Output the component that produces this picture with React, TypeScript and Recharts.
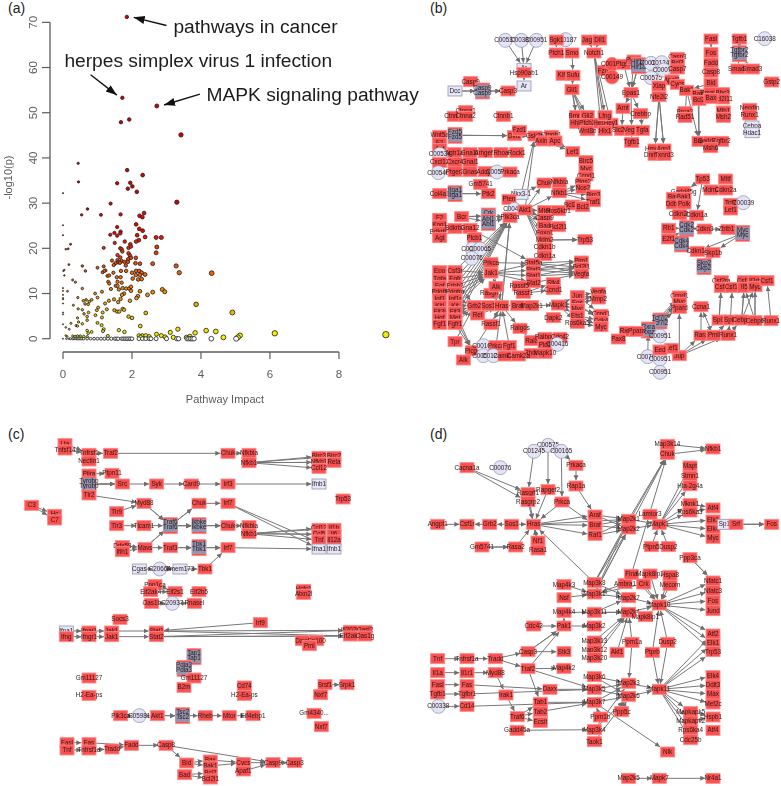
import { ScatterChart, Scatter, XAxis, YAxis, ReferenceLine, ReferenceDot } from 'recharts';

// panel (a): pathway impact vs -log10(p)
const pathwayPoints = [
  [1.85, 71.2], [1.72, 53.3], [2.72, 51.5], [1.92, 48.5], [1.68, 47.9], [3.42, 45.1], [0.44, 38.8], [0.45, 34.7], [0, 32.2],
  [1.86, 37.3], [2.31, 36.2], [1.57, 34.4], [1.95, 34.5], [2.01, 33.7], [1.88, 33.2], [2.14, 32.5], [1.38, 29.9], [3.3, 30.2],
  [0.71, 28.7], [0.54, 27.4], [1.1, 27.4], [1.67, 27.5], [2.22, 27.2], [2.3, 26.9], [2.35, 27.8], [2.12, 25.3], [1.57, 24.7],
  [0, 25.1], [0, 22.9], [2.21, 24.3], [2.31, 23.9], [1.67, 23.7], [1.66, 23.3], [1.37, 23], [1.49, 23.4], [1.57, 22.8], [2.15, 22.9],
  [2.7, 22.4], [2.85, 22.4], [2.38, 22.5], [2.2, 21.8], [2.12, 21.5], [1.79, 21.5], [1.5, 21.2], [1.95, 20.9], [0.22, 20.9],
  [2.72, 20.3], [1.18, 20.1], [0.08, 19.8], [0.15, 19.9], [1.9, 20.1], [1.97, 20.4], [1.66, 20], [1.7, 19.8], [2.7, 19], [1.72, 19.3],
  [1.58, 18.5], [1.9, 18.9], [1.94, 18.4], [1.66, 18], [1.89, 17.6], [1.97, 17.9], [2.11, 17.9], [1.42, 17.3], [1.58, 17.4],
  [1.6, 16.9], [1.52, 16.7], [1.7, 17.2], [1.78, 17], [1.88, 17], [1.65, 16.8], [1.47, 16.3], [1.82, 16.2], [2.1, 16.7], [2.23, 16.6],
  [2.6, 16.6], [3.28, 16.1], [0.17, 16.4], [0.56, 16.1], [0.01, 15], [0.04, 15.2], [0.65, 15], [1, 15.7], [1.18, 16], [1.23, 15.1],
  [1.15, 14.7], [1.2, 15], [3.37, 14.6], [4.31, 14.5], [0.04, 14], [2, 14.6], [2.12, 15], [2.21, 15], [2.28, 14.6], [2.38, 14.2],
  [2.11, 14.1], [2.23, 14.1], [2.02, 13.3], [2.18, 13.1], [2.28, 13.2], [1.46, 14.6], [1.68, 15], [1.83, 15], [1.29, 13.9], [1.34, 14],
  [1.31, 12.6], [1.34, 12.2], [1.56, 13.6], [1.67, 13.6], [1.58, 12.6], [1.7, 12.4], [1.53, 11.7], [1.58, 11.7], [1.62, 10.9],
  [1.73, 11.2], [1.83, 11.1], [1.92, 11.1], [1.97, 11.5], [1.97, 10.6], [1.39, 11], [1.13, 10.4], [2.23, 10.5], [2.6, 10.3],
  [2.88, 10.9], [2.95, 10.4], [2.45, 9.7], [2.17, 9.4], [2.13, 9], [1.77, 10], [1.71, 9.7], [1.67, 8.8], [1.6, 8.1], [1.48, 8.7],
  [1.33, 8.4], [1.22, 7.8], [1.94, 8.4], [3.86, 7.6], [4.91, 5.8], [2.4, 5.7], [0.93, 10], [1, 9.1], [0.83, 8.6], [0.76, 8.2],
  [0.67, 8.6], [0.59, 8.4], [0.64, 7.7], [0.73, 7.6], [0.43, 9.1], [0.3, 7.4], [0.56, 11.1], [0.13, 10.5], [0.28, 13], [0.36, 12.5],
  [0, 11.2], [0, 10.6], [0, 9.7], [0, 9], [0, 8.7], [0, 7.8], [0, 5.8], [0, 5.4], [0, 3.2], [1.27, 6.5], [1.02, 6.9], [0.98, 6.3],
  [1.15, 5.8], [0.94, 5.2], [1.13, 4.7], [0.44, 6.6], [0.56, 6.4], [0.61, 5.5], [0.74, 5.8], [0.42, 4.6], [0.7, 4.9], [0.7, 4.1],
  [0.45, 3.7], [0.56, 3.3], [0.23, 3.4], [0.38, 2.9], [0.42, 2.8], [0.08, 2.5], [0.18, 2.1], [1, 3.5], [1.12, 3], [1.18, 2.1],
  [1.16, 1.7], [1.49, 6.3], [1.57, 6], [1.63, 6], [1.73, 6.6], [1.77, 6.4], [1.9, 4.9], [2, 4.6], [2.24, 2.8], [1.62, 1.9], [1.78, 1.5],
  [0.7, 1.8], [0.83, 1.5], [0.73, 1.2], [2.71, 1], [3.11, 1.4], [3.33, 2.1], [3.83, 1.3], [4.15, 1.8], [4.43, 1.6], [4.65, 0.3],
  [5.13, 0.7], [6.14, 1.2], [9.36, 0.9], [2.85, 0.7], [2.96, 0.4], [3.2, 0.3], [3.58, 0.3], [5.07, 0.3], [3.68, 0.5],
  [0.08, 0.7], [0.12, 0.5], [0.28, 0.6], [0.35, 0.5], [0.42, 0.6], [0.5, 0.6], [0.6, 0.5], [0.7, 0.4], [1.3, 0.6], [2.2, 0.7],
  [2.3, 0.7], [2.4, 0.7], [2.5, 0.5], [2.25, 0.4],
  [0, 0], [0.1, 0], [0.18, 0], [0.22, 0], [0.28, 0], [0.32, 0], [0.38, 0], [0.42, 0], [0.46, 0], [0.5, 0], [0.55, 0], [0.6, 0],
  [0.7, 0], [0.8, 0], [0.9, 0], [1, 0], [1.1, 0], [1.2, 0], [1.3, 0], [1.4, 0], [1.5, 0], [1.55, 0], [1.6, 0], [1.7, 0], [1.75, 0],
  [1.8, 0], [1.85, 0], [1.9, 0], [1.95, 0], [2, 0], [2.2, 0], [2.3, 0], [2.4, 0], [2.5, 0], [2.55, 0], [2.7, 0], [3, 0], [3.3, 0],
  [3.35, 0], [3.6, 0], [3.65, 0], [3.7, 0], [3.75, 0], [3.8, 0], [4.3, 0], [5.02, 0],
];
const impactTicks = [0, 2, 4, 6, 8];
const logpTicks = [0, 10, 20, 30, 40, 50, 60, 70];
const callouts = [
  { text: 'pathways in cancer', x: 3.2, y: 67.7, from: [3.0, 69.3], to: [2.05, 71.1] },
  { text: 'herpes simplex virus 1 infection', x: 0.04, y: 60.2, from: [0.8, 58.4], to: [1.56, 53.9] },
  { text: 'MAPK signaling pathway', x: 4.16, y: 52.65, from: [3.97, 54.1], to: [2.93, 51.7] },
];

// network panels: [label, layoutX, layoutY, kind], '#n' only keeps repeated labels apart
// kinds: c compound circle, r red circle, l pale box, m stacked complex
const bUpper = [
  ['C00531', 241, 121, 'c'], ['C00389', 289, 121, 'c'], ['C00951', 334, 121, 'c'], ['C00187', 422, 119, 'c'], ['C16038', 1019, 116, 'c'],
  ['Sgk1', 394, 120], ['Jag1', 491, 120], ['Dll1', 524, 120], ['Fasl', 858, 117], ['Tgfb1', 943, 117],
  ['Ptch1', 394, 159], ['Smo', 441, 159], ['Notch1', 507, 159], ['Fos', 858, 158], ['Tgfbr2', 943, 161, 'm'], ['Fadd', 858, 189],
  ['Casp8', 858, 217], ['Smad2', 939, 207], ['Smad3', 982, 207], ['Gstp2', 1040, 246], ['Bid', 858, 250],
  ['Ar', 297, 205, 'l'], ['Hsp90ab1', 297, 218], ['Ar#2', 297, 258, 'l'], ['Casp9', 137, 245], ['Dcc', 90, 273, 'l'], ['Casp9#2', 172, 273, 'm'], ['Casp3', 249, 273],
  ['Kif7', 414, 226], ['Sufu', 444, 226], ['Gli1', 441, 269], ['Fzd1', 539, 212], ['C00187#2', 561, 193, 'r'], ['C00149', 561, 231, 'r'],
  ['Ptgs2', 596, 193], ['Ptgs1', 627, 180], ['Hif1a', 640, 197, 'm'], ['C00165', 678, 190, 'c'], ['C01245', 710, 188, 'c'], ['C00575', 678, 233, 'c'], ['C00076', 716, 210, 'c'],
  ['Casp3#2', 757, 172], ['Bcl2', 757, 190], ['Casp7', 757, 207], ['Apaf1', 741, 240], ['Cycs', 757, 253], ['Xiap', 702, 258], ['Nfe2l2', 702, 290], ['Epas1', 618, 278],
  ['Bak1', 785, 271], ['Bax', 819, 283], ['Bcl2#2', 822, 301], ['Pmaip1', 858, 278], ['Bbc3', 893, 278], ['Bcl2l11', 893, 297], ['Bax#2', 858, 295],
  ['Ctnnb1', 88, 349], ['Ctnna1', 122, 332], ['Ctnna2', 122, 349], ['Ctnnb1#2', 235, 349],
  ['Bmp4', 455, 347], ['Gli2', 487, 347], ['Hhip', 455, 370], ['Ptch2', 487, 370], ['Wnt8b', 487, 392], ['Hes1', 527, 370], ['Hey1', 558, 370], ['Lfng', 540, 347], ['Hlx1', 540, 392],
  ['Arnt', 594, 325], ['Crebbp', 647, 341], ['Slc2a1', 590, 391], ['Vegfa', 620, 391], ['Tgfa', 652, 391], ['Tgfb1#2', 620, 427],
  ['Hmox1', 690, 447], ['Aqp1', 717, 447], ['Dnmt3a', 690, 466], ['Txnrd3', 717, 466],
  ['Mlh1', 895, 333], ['Msh2', 895, 352], ['Brca2', 780, 335], ['Rad51', 780, 352], ['Bax#3', 822, 424], ['Gadd45a', 857, 424], ['Tgfbr2#2', 890, 424], ['Msh6', 857, 443],
  ['Necdin', 974, 325], ['Runx1', 974, 345], ['Cebpa', 981, 378, 'l'], ['Hdac1', 981, 398, 'l'],
  ['Wnt5a', 44, 406], ['Fzd5', 90, 406, 'm'], ['F2', 44, 428], ['Agt', 44, 446], ['Agtr1a', 88, 458], ['Gna11', 135, 458], ['Arhgef1', 181, 458], ['Rhoa', 228, 458], ['Rock1', 275, 458],
  ['C00534', 44, 463, 'c'], ['Cxcl12', 44, 487], ['Cxcr4', 90, 487], ['Gnai1', 135, 487], ['C00546', 40, 518, 'c'], ['Ptger2', 90, 515], ['Gnas', 135, 515], ['Adcy1', 181, 515],
  ['C00575#2', 216, 516, 'c'], ['Prkaca', 255, 516], ['Gm5741', 167, 553], ['Col4a1', 44, 581], ['Itga1', 90, 581, 'm'], ['Ptk2', 190, 581],
  ['Dvl1', 268, 407], ['Fzd1#2', 283, 391], ['Gsk3b', 330, 408], ['Ctnnb1#3', 379, 406], ['Axin1', 354, 423], ['Apc', 390, 423], ['Lef1', 443, 455],
  ['Birc5', 483, 482], ['Myc', 483, 508], ['Ccnd1', 483, 528], ['Chuk', 357, 549], ['Nfkbia', 403, 547], ['Nfkb1', 403, 578], ['Ptgs2#2', 474, 547], ['Nos2', 474, 565],
  ['Nkx3-1', 288, 583, 'l'], ['Tp53', 833, 537], ['Mitf', 902, 537], ['Mdm2', 858, 570], ['Cdkn2a', 902, 570], ['Gadd45g', 776, 575],
];
const bLower = [
  ['Pten', 252, 28], ['Birc3', 505, 15], ['Traf1', 505, 35], ['Bcl2l1', 443, 45], ['Bcl2#3', 473, 50], ['C00416', 268, 58, 'c'], ['Akt1', 300, 60], ['Pik3ca', 255, 82],
  ['Mtor', 359, 62], ['Rps6kb1', 400, 62], ['Casp9#3', 359, 85], ['Bad', 359, 108], ['Bcl2l1#2', 400, 110], ['Foxo1', 359, 130], ['Mdm2#2', 359, 150], ['Cdkn1b', 359, 172], ['Cdkn1a', 359, 197], ['Trp53', 480, 149],
  ['Bcr', 110, 80], ['Crk', 190, 78, 'm'], ['Abl1', 190, 97, 'm'], ['F2#2', 44, 85], ['Kng1', 44, 105], ['Bdkrb1', 44, 125], ['Agt#2', 44, 143], ['Bdkrb2', 90, 115], ['Gna12', 135, 115], ['Plcb1', 148, 143],
  ['C00334', 142, 177, 'c'], ['C00065', 165, 177, 'c'], ['C00076#2', 140, 205, 'c'], ['Prkca', 198, 218], ['Jak1', 198, 249], ['Stat5a', 325, 220], ['Stat3', 325, 240], ['Stat1', 325, 258], ['Stat2', 325, 278],
  ['Pim1', 469, 213], ['Bcl2l1#3', 469, 232], ['Vegfa#2', 469, 251], ['Epo', 44, 242], ['Csf3r', 90, 242], ['Tgfa#2', 44, 267], ['Egfr', 90, 267], ['Egf', 44, 287], ['Erbb2', 90, 287],
  ['Pdgfb', 44, 306], ['Pdgfra', 90, 306], ['Igf1', 44, 326], ['Igf1r', 90, 326], ['Kitl', 44, 347], ['Kit', 90, 347], ['Flt3l', 44, 365], ['Flt3', 90, 365], ['Hgf', 44, 384], ['Met', 90, 384], ['Fgf1', 44, 403], ['Fgfr1', 90, 403],
  ['Tpr', 90, 455], ['Ret', 158, 375], ['Grb2', 148, 347], ['Sos1', 190, 347], ['Hras', 230, 347], ['Rasgrf1', 198, 310], ['Alk', 213, 290], ['Rassf1', 198, 403], ['Braf', 278, 347], ['Map2k1', 320, 347], ['Mapk1', 400, 345],
  ['Dapk2', 385, 383], ['Rassf5', 283, 288], ['Stk4', 385, 278], ['Ccnd1#2', 385, 299], ['Rassf1#2', 295, 310], ['Ralgds', 285, 415], ['Jun', 457, 317], ['Fos#2', 457, 340], ['Myc#2', 457, 356], ['Ets1', 457, 377], ['Rps6ka5', 457, 400],
  ['Vegfa#3', 520, 307], ['Mmp2', 520, 327], ['Ccnd1#3', 528, 373], ['Cdk4', 528, 392], ['Myc#3', 528, 410], ['Rala', 320, 452], ['Ralbp1', 360, 442], ['Pld1', 360, 465], ['Cdc42', 405, 442], ['C00416#2', 397, 463, 'c'],
  ['Rhoa#2', 320, 490], ['Mapk10', 360, 490], ['Plcg1', 143, 482], ['Alk#2', 115, 510], ['C00165#2', 175, 467, 'c'], ['Prkca#2', 213, 467], ['Fgf1#2', 253, 467], ['C00575#3', 175, 497, 'c'], ['C01245#2', 205, 497, 'c'], ['Camk2d', 240, 498], ['Camk2a', 280, 498],
  ['Bax#4', 745, 22], ['Bak1#2', 777, 22], ['Ddb2', 745, 42], ['Polk', 777, 42], ['Cdkn2b', 764, 73], ['Cdkn1a#2', 815, 76], ['Tcf7', 917, 40], ['Lef1#2', 917, 60], ['C00039', 955, 38, 'c'],
  ['Rb1', 731, 115], ['E2f1', 731, 147], ['Cdk2', 785, 115, 'm'], ['Cdk4#2', 770, 162, 'm'], ['Cdkn3', 838, 117], ['Zbtb17', 909, 118], ['Myc#4', 953, 130, 'm'], ['Cdkn1b#2', 817, 184], ['Skp1b', 864, 188], ['Skp2', 837, 230, 'm'],
  ['Csf2ra', 889, 272], ['Csf3', 889, 292], ['Csf1r', 922, 292], ['Csf3r#2', 958, 272], ['Il5', 958, 292], ['Il2rb', 990, 272], ['Myc#5', 990, 290], ['Csf1', 1026, 272],
  ['Spi1', 882, 390], ['Spi1#2', 916, 390], ['Cebpa#2', 950, 390], ['Cebpb', 990, 392], ['Runx1#2', 1038, 392], ['Ccna1', 828, 350], ['Rara', 828, 436], ['Pml', 865, 436], ['Runx1#3', 909, 436],
  ['Jup', 763, 497], ['Lef1#3', 740, 475], ['Ccnd1#4', 763, 318], ['Myc#6', 763, 337], ['Ppard', 763, 355], ['Tcf7l2', 705, 393, 'm'], ['Rxra', 670, 420, 'm'], ['Rxrb', 604, 424], ['Ppara', 635, 424], ['Pax8', 580, 447],
  ['C00951#2', 705, 438, 'c'], ['C00762', 668, 500, 'c'], ['C00951#3', 705, 507, 'c'], ['C00951#4', 705, 547, 'c'], ['Eed', 705, 480],
];
const bEdges = [
  'C00531>Ar', 'C00389>Ar', 'C00951>Ar', 'Hsp90ab1>Ar#2', 'Dcc>Casp9#2', 'Dcc>Casp9#2', 'Casp9>Casp9#2', 'Casp9#2>Casp3', 'Casp9#2>Casp3', 'Sgk1>Ptch1', 'C00187>Sgk1', 'Smo>Sufu', 'Ptch1>Smo',
  'Sufu>Gli1', 'Gli1>Bmp4', 'Gli1>Gli2', 'Gli1>Hhip', 'Gli1>Ptch2', 'Gli1>Wnt8b', 'Jag1>Notch1', 'Dll1>Notch1', 'Notch1>Hes1', 'Notch1>Hey1', 'Notch1>Lfng', 'Notch1>Hlx1',
  'Fasl>Fos', 'Fos>Fadd', 'Fadd>Casp8', 'Casp8>Bid', 'Tgfb1>Tgfbr2', 'Tgfbr2>Smad2', 'Tgfbr2>Smad3',
  'Hif1a>Epas1', 'Hif1a>Epas1', 'Ptgs1>Epas1', 'Ptgs2>Epas1', 'C00165>Hif1a', 'C00575>Hif1a', 'Epas1>Arnt', 'Epas1>Crebbp', 'Arnt>Slc2a1', 'Epas1>Vegfa', 'Crebbp>Tgfa', 'Vegfa>Tgfb1#2',
  'Xiap>Nfe2l2', 'Nfe2l2>Hmox1', 'Nfe2l2>Hmox1', 'Nfe2l2>Aqp1', 'Nfe2l2>Aqp1', 'Cycs>Apaf1', 'Bak1>Cycs', 'Bid>Bak1', 'Bak1>Bax#3', 'Bax>Bax#3', 'Bcl2#2>Bax#3', 'Bak1>Rad51',
  'Wnt5a>Fzd5', 'Fzd5>Dvl1', 'Fzd5>Dvl1', 'Fzd5>Dvl1', 'Dvl1>Gsk3b', 'Gsk3b>Axin1', 'Axin1>Lef1', 'Apc>Lef1', 'Lef1>Birc5', 'Agtr1a>Gna11', 'Gna11>Arhgef1', 'Arhgef1>Rhoa', 'Rhoa>Rock1', 'Cxcl12>Cxcr4', 'Cxcr4>Gnai1',
  'C00546>Ptger2', 'Ptger2>Gnas', 'Gnas>Adcy1', 'Adcy1>C00575#2', 'C00575#2>Prkaca', 'Col4a1>Itga1', 'Itga1>Ptk2', 'Itga1>Ptk2', 'Nkx3-1>Gsk3b', 'Nkx3-1>Chuk', 'Pten>Nkx3-1', 'Chuk>Nfkbia', 'Nfkbia>Nfkb1', 'Nfkb1>Ptgs2#2', 'Nfkb1>Nos2', 'Nfkb1>Birc3', 'Nfkb1>Traf1',
  'Akt1>Chuk', 'Akt1>Nfkb1', 'Akt1>Mtor', 'Akt1>Casp9#3', 'Akt1>Bad', 'Akt1>Foxo1', 'Akt1>Mdm2#2', 'Akt1>Cdkn1b', 'Akt1>Cdkn1a', 'Mdm2#2>Trp53', 'Mdm2#2>Trp53', 'Mtor>Rps6kb1', 'Bad>Bcl2l1#2',
  'Akt1>Gsk3b', 'Pik3ca>Akt1', 'Bcr>Crk', 'Bcr>Crk', 'Bcr>Abl1', 'Crk>Pik3ca', 'Abl1>Pik3ca', 'Bdkrb2>Gna12', 'Bdkrb1>Bdkrb2', 'Gna12>Plcb1', 'Gna12>Stat5a',
  'Jak1>Stat5a', 'Jak1>Stat3', 'Jak1>Stat1', 'Jak1>Stat2', 'Prkca>Stat5a', 'Stat5a>Pim1', 'Stat5a>Bcl2l1#3', 'Stat5a>Vegfa#2', 'Stat3>Pim1', 'Stat3>Bcl2l1#3', 'Stat3>Vegfa#2', 'Stat1>Bcl2l1#3', 'Stat1>Vegfa#2', 'Stat2>Vegfa#2',
  'Csf3r>Pik3ca', 'Egfr>Pik3ca', 'Erbb2>Pik3ca', 'Pdgfra>Pik3ca', 'Igf1r>Pik3ca', 'Kit>Pik3ca', 'Flt3>Pik3ca', 'Met>Pik3ca', 'Fgfr1>Pik3ca', 'Csf3r>Jak1', 'Egfr>Jak1', 'Erbb2>Jak1', 'Pdgfra>Jak1', 'Igf1r>Jak1', 'Kit>Jak1',
  'Epo>Csf3r', 'Tgfa#2>Egfr', 'Egf>Erbb2', 'Pdgfb>Pdgfra', 'Igf1>Igf1r', 'Kitl>Kit', 'Flt3l>Flt3', 'Hgf>Met', 'Fgf1>Fgfr1',
  'Egfr>Grb2', 'Igf1r>Grb2', 'Kit>Grb2', 'Flt3>Grb2', 'Met>Grb2', 'Fgfr1>Grb2', 'Fgfr1>Plcg1', 'Met>Plcg1', 'Flt3>Plcg1', 'Tpr>Grb2', 'Grb2>Sos1', 'Sos1>Hras', 'Ret>Hras', 'Hras>Braf', 'Braf>Map2k1', 'Map2k1>Mapk1', 'Hras>Pik3ca', 'Hras>Pik3ca', 'Rasgrf1>Hras', 'Hras>Rassf1', 'Hras>Ralgds', 'Alk>Jak1', 'Prkca>Hras',
  'Rassf1#2>Stk4', 'Rassf1#2>Ccnd1#2', 'Rassf5>Rassf1#2', 'Ralgds>Rala', 'Rala>Ralbp1', 'Rala>Pld1', 'Mapk1>Jun', 'Mapk1>Fos#2', 'Mapk1>Myc#2', 'Mapk1>Ets1', 'Mapk1>Rps6ka5', 'Jun>Vegfa#3', 'Jun>Mmp2', 'Fos#2>Vegfa#3', 'Fos#2>Mmp2', 'Myc#2>Ccnd1#3', 'Fos#2>Cdk4', 'Jun>Ccnd1#3', 'Ets1>Myc#3', 'Rps6ka5>Myc#3', 'Ets1>Cdk4',
  'Plcg1>Prkca#2', 'Alk#2>Plcg1', 'Prkca#2>Hras', 'Fgf1#2>Hras', 'Plcg1>Hras', 'Rhoa#2>Mapk10',
  'Tp53>Cdkn1a#2', 'Tp53>Gadd45g', 'Tp53>Gadd45g', 'Mdm2>Tp53', 'Cdkn2a>Mdm2', 'Cdkn2b>Cdk2', 'Cdkn1a#2>Cdk2', 'Rb1>Cdk2', 'E2f1>Cdk2', 'Cdk2>Cdkn3', 'Cdkn3>Zbtb17', 'Zbtb17>Myc#4', 'Myc#4>Cdkn1b#2', 'Myc#4>Skp1b', 'Cdk4#2>Cdkn1b#2', 'Cdkn1b#2>Skp1b', 'Skp1b>Skp2', 'Rb1>E2f1', 'E2f1>Cdk4#2',
  'Spi1>Csf2ra', 'Spi1>Csf3', 'Spi1#2>Csf1r', 'Cebpa#2>Csf3r#2', 'Cebpa#2>Il5', 'Cebpa#2>Myc#5', 'Cebpb>Il2rb', 'Cebpb>Myc#5', 'Cebpb>Il5', 'Runx1#2>Csf1', 'Rara>Spi1', 'Pml>Spi1#2', 'Runx1#3>Cebpa#2', 'Runx1#3>Spi1#2', 'Rara>Ccna1', 'Pml>Ccna1',
  'Jup>Rara', 'Jup>Pml', 'Jup>Runx1#3', 'Jup>Ppard', 'Tcf7l2>Ccnd1#4', 'Tcf7l2>Myc#6', 'Tcf7l2>Ppard', 'Rxra>Ccnd1#4', 'Rxra>Myc#6', 'Rxra>Ppard', 'Rxrb>Ppara', 'Ppara>Rxra', 'Pax8>Rxrb', 'C00762>Rxra', 'C00951#2>Tcf7l2',
];

const cUpper = [
  ['Lta', 195, 56], ['Tnfsf14', 195, 75], ['Tnfrsf1', 267, 85], ['Traf2', 332, 85], ['Nectin1', 267, 108], ['Chuk', 684, 85], ['Nfkbia', 747, 85], ['Nfkb1', 747, 113],
  ['Birc3', 957, 94], ['Birc2', 1002, 94], ['Nfkb1#2', 957, 112], ['Rela', 1002, 112], ['Ccl12', 957, 130], ['Pilra', 267, 147], ['Ptpn11', 336, 145], ['Tyrobp', 267, 177, 'm'],
  ['Src', 367, 177], ['Syk', 470, 177], ['Card9', 574, 177], ['Irf3', 684, 177], ['Ifnb1', 957, 177, 'l'], ['Tlr2', 267, 210], ['Trp53', 1029, 222], ['C3', 95, 241], ['Hc', 164, 268], ['C7', 164, 285],
  ['Myd88', 432, 235], ['Tlr9', 350, 260], ['Chuk#2', 597, 235], ['Irf7', 684, 235], ['Tlr3', 350, 302], ['Ticam1', 432, 302], ['Traf6', 511, 302, 'm'], ['Ikbke', 597, 302, 'm'], ['Chuk#3', 684, 302],
  ['Nfkbia#2', 747, 302], ['Nfkb1#3', 747, 326], ['Ccl12#2', 957, 310], ['Il1b', 1002, 310], ['Ccl5', 957, 328], ['Il6', 1002, 328], ['Tnf', 957, 345], ['Il12a', 1002, 345], ['Ifna1', 957, 372, 'l'], ['Ifnb1#2', 1002, 372, 'l'],
  ['Ddx58', 367, 362], ['Ifih1', 367, 380], ['Mavs', 435, 368], ['Traf3', 511, 368], ['Tbk1#2', 597, 368, 'm'], ['Irf7#2', 684, 368], ['Cgas', 418, 432, 'l'], ['C20664', 479, 432, 'c'], ['Tmem173', 540, 432, 'l'], ['Tbk1', 615, 432],
  ['Ppp1ca', 465, 479], ['Eif2ak4', 452, 500], ['Eif2s1', 525, 500], ['Eif2b5', 597, 500], ['Hcfc1', 911, 493], ['Atxn2l', 911, 508], ['Oas1b', 455, 535], ['C20937', 517, 535, 'c'], ['Rnasel', 583, 535],
];
const cLower = [
  ['Socs3', 360, 58], ['Ifna1#2', 199, 93, 'l'], ['Ifng', 199, 110], ['Ifnar1', 267, 93], ['Ifngr1', 267, 110], ['Jak1', 335, 93], ['Jak1#2', 335, 110], ['Stat1', 469, 93], ['Stat2', 469, 110], ['Irf9', 781, 68],
  ['Ifi202b', 1051, 91], ['Oasl2', 1095, 91], ['Eif2ak2', 1051, 108], ['Oas1g', 1095, 108], ['Daxx', 907, 122], ['Sp100', 950, 122], ['Pml', 928, 137],
  ['Tap1', 582, 170, 'm'], ['Pdia3', 552, 205, 'm'], ['Gm11127', 267, 234], ['Gm11127#2', 582, 234], ['B2m', 552, 262], ['H2-Ea-ps', 267, 286], ['Cd74', 733, 258], ['H2-Ea-ps#2', 733, 286],
  ['Srsf1', 975, 254], ['Srpk1', 1041, 254], ['Nxf7', 962, 284], ['Gm4340...', 942, 340], ['Nxf7#2', 964, 380], ['Pik3ca', 362, 347], ['C05981', 418, 347, 'c'], ['Akt1', 472, 347], ['Tsc2', 548, 347, 'm'], ['Rheb', 616, 347], ['Mtor', 688, 347], ['Eif4ebp1', 759, 347],
  ['Fasl', 201, 428], ['Tnf#2', 201, 450], ['Fas', 267, 428], ['Tnfrsf1a', 267, 450], ['Tradd', 336, 447], ['Fadd', 394, 436], ['Casp8', 498, 436], ['Bid', 560, 489], ['Bax', 631, 480], ['Bak1', 631, 498], ['Bcl2', 631, 519], ['Bcl2l1', 631, 537], ['Bad', 554, 524],
  ['Cycs', 730, 488], ['Apaf1', 730, 513], ['Casp9', 819, 488], ['Casp3', 884, 488],
];
const cEdges = [
  'Lta>Tnfrsf1', 'Tnfsf14>Tnfrsf1', 'Tnfrsf1>Traf2', 'Traf2>Chuk', 'Chuk>Nfkbia', 'Nfkbia>Nfkb1', 'Nfkb1>Birc3', 'Nfkb1>Nfkb1#2', 'Nfkb1>Ccl12', 'Nfkb1>Birc2', 'Nfkb1>Rela',
  'Pilra>Ptpn11', 'Tyrobp>Src', 'Tyrobp>Src', 'Tyrobp>Src', 'Src>Syk', 'Syk>Card9', 'Card9>Irf3', 'Irf3>Ifnb1', 'Tlr2>Myd88', 'C3>Hc', 'C3>C7', 'Tlr9>Myd88', 'Myd88>Traf6', 'Myd88>Traf6', 'Tlr3>Ticam1', 'Ticam1>Traf6',
  'Traf6>Chuk#2', 'Traf6>Chuk#2', 'Traf6>Ikbke', 'Traf6>Ikbke', 'Traf6>Ikbke', 'Chuk#2>Irf7', 'Ikbke>Chuk#3', 'Ikbke>Chuk#3', 'Chuk#3>Nfkbia#2', 'Nfkbia#2>Nfkb1#3',
  'Nfkb1#3>Ccl12#2', 'Nfkb1#3>Ccl5', 'Nfkb1#3>Tnf', 'Nfkb1#3>Il1b', 'Nfkb1#3>Il6', 'Irf7>Ifna1', 'Irf7>Ifnb1#2', 'Irf7#2>Ifna1', 'Ddx58>Mavs', 'Ifih1>Mavs', 'Mavs>Traf6', 'Mavs>Traf6', 'Mavs>Traf3', 'Traf3>Tbk1#2', 'Traf3>Tbk1#2', 'Tbk1#2>Irf7#2', 'Tbk1#2>Irf7#2',
  'Cgas>C20664', 'C20664>Tmem173', 'Tmem173>Tbk1', 'Tbk1>Irf7#2', 'Eif2ak4>Eif2s1', 'Ppp1ca>Eif2s1', 'Oas1b>C20937', 'C20937>Rnasel',
  'Ifna1#2>Ifnar1', 'Ifng>Ifngr1', 'Ifnar1>Jak1', 'Ifngr1>Jak1#2', 'Jak1>Stat1', 'Jak1#2>Stat2', 'Socs3>Jak1', 'Irf9>Stat1', 'Stat1>Ifi202b', 'Stat1>Eif2ak2', 'Stat2>Ifi202b', 'Stat2>Eif2ak2', 'Stat2>Eif2ak2', 'Srsf1>Srpk1',
  'Pik3ca>C05981', 'C05981>Akt1', 'Akt1>Tsc2', 'Akt1>Tsc2', 'Tsc2>Rheb', 'Rheb>Mtor', 'Mtor>Eif4ebp1', 'Fasl>Fas', 'Tnf#2>Tnfrsf1a', 'Fas>Fadd', 'Tnfrsf1a>Tradd', 'Tradd>Fadd', 'Fadd>Casp8', 'Casp8>Bid', 'Casp8>Casp9',
  'Bid>Bax', 'Bid>Bak1', 'Bax>Cycs', 'Bak1>Cycs', 'Bad>Bcl2', 'Bad>Bcl2l1', 'Cycs>Casp9', 'Apaf1>Casp9', 'Casp9>Casp3',
];

const dUpper = [
  ['C00575', 384, 61, 'c'], ['C01245', 342, 79, 'c'], ['C00165', 424, 79, 'c'], ['C00076', 241, 128, 'c'], ['Map3k14', 742, 58], ['Chuk', 742, 88], ['Nfkb1', 879, 72], ['Mapt', 810, 123], ['Stmn1', 810, 153], ['Hla-2g4a', 810, 182],
  ['Prkaca', 468, 121], ['Rap1a', 468, 183], ['Cacna1a', 141, 128], ['Rasgrf1', 324, 203], ['Rasgrp2', 324, 230], ['Rapgef2', 384, 194], ['Prkca', 426, 231], ['Mknk1', 810, 236], ['Rps6ka3', 810, 261], ['Atf4', 879, 249],
  ['Araf', 525, 270], ['Lamtor3', 690, 268], ['Elk1', 879, 285], ['Elk4', 879, 313], ['Myc', 879, 340], ['Sp1', 913, 298, 'l'], ['Srf', 948, 298], ['Fos', 1055, 298], ['Angpt1', 53, 298], ['Csf1r', 141, 298], ['Grb2', 209, 298], ['Sos1', 275, 298], ['Hras', 341, 298],
  ['Braf', 525, 301], ['Raf1', 525, 331], ['Map2k1', 626, 283], ['Map2k2', 626, 312], ['Mapk1', 718, 298], ['Ptpn5', 694, 365], ['Dusp2#3', 745, 365], ['Gm5741', 186, 366], ['Rasa2', 287, 366], ['Nf1', 354, 348], ['Rasa1', 354, 375],
  ['Ppp3ca', 810, 398], ['Map4k3', 432, 479], ['Map3k8', 523, 473], ['Map3k1', 523, 507], ['Nsf', 432, 518], ['Ambra1', 615, 476], ['Flna', 634, 448], ['Mapk8ip3', 690, 447], ['Crk', 671, 477], ['Hspa8', 750, 451], ['Mecom', 750, 481],
  ['Nfatc1', 879, 468], ['Nfatc3', 879, 497], ['Fos#2', 879, 527], ['Map2k7', 626, 518], ['Mapk10', 718, 540],
];
const dLower = [
  ['Jund', 879, 32], ['Map4k4', 432, 37], ['Map3k11', 523, 37], ['Map2k4', 626, 37], ['Mapk8ip1', 676, 50], ['Cdc42', 341, 78], ['Pak1', 432, 78], ['Map3k2', 523, 78], ['Ppm1a', 636, 127], ['Dusp2', 743, 127], ['Akt1', 591, 157], ['Ptprb', 697, 157],
  ['Atf2', 879, 102], ['Elk1#2', 879, 130], ['Trp53', 879, 155], ['Map3k13', 523, 123], ['Map3k12', 523, 150], ['Map3k20', 523, 173], ['Casp3', 324, 155], ['Stk3', 432, 155], ['Tnf', 53, 176], ['Tnfrsf1a', 141, 176], ['Tradd', 226, 176], ['Traf2', 324, 206], ['Map4k2', 432, 205],
  ['Il1a', 53, 218], ['Il1r1', 141, 218], ['Myd88', 226, 218], ['Fasl', 53, 254], ['Fas', 141, 254], ['Tgfb1', 53, 282], ['Tgfbr1', 141, 282], ['Irak1', 258, 285], ['Daxx', 390, 268], ['Map3k6', 523, 230], ['Map3k5', 523, 268], ['Map3k7', 523, 307],
  ['Map2k3', 626, 250], ['Map2k6', 626, 289], ['Mapk11', 718, 268], ['Elk4#2', 879, 227], ['Ddit3', 879, 255], ['Max', 879, 283], ['Mef2c', 879, 312], ['C00338', 55, 319, 'c'], ['Cd14', 141, 319], ['Tab1', 361, 307], ['Tab2', 361, 335], ['Ecsit', 361, 367], ['Traf6', 292, 350],
  ['Gadd45a', 291, 391], ['Map3k4', 523, 389], ['Taok1', 523, 425], ['Ppm1b', 541, 351], ['Ppp5c', 605, 335], ['Mapkapk5', 812, 335], ['Mapkapk2', 812, 363], ['Rps6ka4', 812, 390], ['Cdc25b', 812, 419], ['Hspb1', 879, 351], ['Atf4#2', 879, 391], ['Nlk', 743, 456],
  ['Map2k5', 626, 535], ['Mapk7', 718, 535], ['Nr4a1', 879, 535],
];
const dEdges = [
  'Map3k14>Nfkb1', 'Chuk>Nfkb1', 'C00575>Rapgef2', 'C01245>Rasgrf1', 'C00165>Prkaca', 'C00165>Prkca', 'Prkaca>Rap1a', 'Rap1a>Araf', 'Cacna1a>Rasgrf1', 'Cacna1a>Rasgrp2', 'Rasgrf1>Hras', 'Rasgrp2>Hras', 'Rapgef2>Hras', 'Prkca>Hras', 'Prkca>Braf',
  'Angpt1>Csf1r', 'Grb2>Csf1r', 'Sos1>Grb2', 'Sos1>Hras', 'Hras>Araf', 'Hras>Braf', 'Hras>Raf1', 'Hras>Map2k1', 'Rasa2>Hras', 'Nf1>Hras', 'Rasa1>Hras', 'Gm5741>Rasa2', 'Gm5741>Rasa2', 'Map3k8>Hras',
  'Araf>Map2k1', 'Araf>Map2k2', 'Braf>Map2k1', 'Braf>Map2k2', 'Raf1>Map2k1', 'Raf1>Map2k2', 'Map2k1>Mapk1', 'Map2k2>Mapk1', 'Lamtor3>Mapk1', 'Ptpn5>Mapk1', 'Dusp2#3>Mapk1',
  'Mapk1>Mapt', 'Mapk1>Stmn1', 'Mapk1>Hla-2g4a', 'Mapk1>Mknk1', 'Mapk1>Rps6ka3', 'Mapk1>Elk1', 'Mapk1>Elk4', 'Mapk1>Myc', 'Mknk1>Atf4', 'Rps6ka3>Atf4', 'Sp1>Srf', 'Srf>Fos', 'Srf>Fos', 'Srf>Fos',
  'Map3k8>Map2k1', 'Map3k8>Map2k2', 'Map3k1>Map2k1', 'Map3k1>Map2k2', 'Map3k8>Chuk', 'Map3k1>Chuk', 'Map2k1>Chuk', 'Flna>Chuk', 'Map3k8>Map2k7', 'Map3k1>Map2k7', 'Map4k3>Map3k1', 'Nsf>Map3k1', 'Ambra1>Map3k1', 'Crk>Map3k1', 'Flna>Mapk10', 'Mapk8ip3>Mapk10', 'Crk>Mapk10', 'Hspa8>Mapk10', 'Mecom>Mapk10',
  'Ppp3ca>Nfatc1', 'Ppp3ca>Nfatc1', 'Mapk10>Nfatc1', 'Mapk10>Nfatc3', 'Mapk10>Fos#2', 'Mapk10>Jund', 'Map2k7>Mapk10', 'Map2k4>Mapk10', 'Map3k11>Map2k4', 'Map3k11>Map2k4', 'Map4k4>Map3k11', 'Mapk8ip1>Mapk10', 'Pak1>Map4k4', 'Cdc42>Pak1', 'Pak1>Map3k2', 'Casp3>Pak1', 'Casp3>Pak1', 'Traf2>Pak1', 'Casp3>Stk3', 'Map3k11>Map2k7',
  'Map3k13>Map2k4', 'Map3k12>Map2k4', 'Map3k20>Map2k4', 'Akt1>Map2k4', 'Ppm1a>Map2k3', 'Ppm1a>Map2k4', 'Ptprb>Mapk10', 'Ptprb>Mapk11', 'Dusp2>Mapk11', 'Dusp2>Mapk10', 'Mapk10>Atf2', 'Mapk10>Elk1#2', 'Mapk10>Trp53', 'Mapk11>Atf2', 'Mapk11>Elk1#2', 'Mapk11>Trp53',
  'Tnf>Tnfrsf1a', 'Tnfrsf1a>Tradd', 'Tradd>Casp3', 'Tradd>Traf2', 'Traf2>Map4k2', 'Traf2>Map3k5', 'Traf2>Tab1', 'Il1a>Il1r1', 'Il1r1>Myd88', 'Myd88>Irak1', 'Irak1>Traf6', 'Fasl>Fas', 'Tgfb1>Tgfbr1', 'Fas>Daxx', 'Daxx>Map3k5', 'Tgfbr1>Map3k5', 'C00338>Cd14', 'Cd14>Map3k7', 'Tab1>Map3k7', 'Tab2>Map3k7', 'Traf6>Tab1', 'Traf6>Tab2', 'Traf6>Ecsit',
  'Gadd45a>Map3k4', 'Map3k5>Map2k3', 'Map3k5>Map2k6', 'Map3k6>Map2k3', 'Map3k6>Map2k6', 'Map3k7>Map2k3', 'Map3k7>Map2k6', 'Map3k7>Nlk', 'Map3k4>Map2k3', 'Map3k4>Map2k6', 'Taok1>Map2k6', 'Ppm1b>Map3k7', 'Ppp5c>Map2k6', 'Map2k3>Mapk11', 'Map2k6>Mapk11',
  'Mapk11>Elk4#2', 'Mapk11>Ddit3', 'Mapk11>Max', 'Mapk11>Mef2c', 'Mapk11>Mapkapk5', 'Mapk11>Mapkapk2', 'Mapk11>Rps6ka4', 'Mapk11>Cdc25b', 'Mapkapk5>Hspb1', 'Mapkapk2>Hspb1', 'Map2k5>Mapk7', 'Mapk7>Nr4a1',
];

const shiftRows = (rows: any[], dy: number) => rows.map(([l, x, y, k]) => [l, x, y + dy, k]);

const panels = [
  { left: 425, top: 0, width: 356, height: 410, rows: [...bUpper, ...shiftRows(bLower, 570)], links: bEdges },
  { left: 0, top: 425, width: 400, height: 361, rows: [...cUpper, ...shiftRows(cLower, 525)], links: cEdges },
  { left: 420, top: 425, width: 361, height: 361, rows: [...dUpper, ...shiftRows(dLower, 525)], links: dEdges },
];
const panelTags = [
  { tag: '(a)', left: 8, top: 0 },
  { tag: '(b)', left: 430, top: 0 },
  { tag: '(c)', left: 8, top: 426 },
  { tag: '(d)', left: 430, top: 426 },
];

const AXIS_GREY = '#5c5c5c';

function pointFill(y: number) {
  if (y < 0.25) return '#ffffff';
  const g = Math.max(0, Math.round(245 * (1 - y / 24)));
  return y > 28 ? '#d40000' : `rgb(245,${g},0)`;
}

function PathwayDot({ cx, cy, payload }: any) {
  const r = 0.6 + 0.85 * Math.sqrt(payload.x);
  return <circle cx={cx} cy={cy} r={r} fill={pointFill(payload.y)} stroke="#1a1a1a" strokeWidth={0.8} />;
}

function ImpactChart() {
  const data = pathwayPoints.map(([x, y]) => ({ x, y }));
  return (
    <div style={{ position: 'absolute', left: 0, top: 0, filter: 'blur(0.35px)' }}>
      <ScatterChart width={420} height={420} margin={{ top: 15, right: 20, bottom: 0, left: 0 }}>
        <defs>
          <marker id="calloutHead" markerWidth="12" markerHeight="10" refX="11" refY="4" orient="auto" markerUnits="userSpaceOnUse">
            <path d="M0,0 L11,4 L0,8 Z" fill="#111" />
          </marker>
        </defs>
        <XAxis
          type="number"
          dataKey="x"
          domain={[-0.377, 9.77]}
          ticks={impactTicks}
          axisLine={false}
          tickSize={7}
          tickLine={{ stroke: AXIS_GREY, strokeWidth: 1.2 }}
          tick={{ fill: AXIS_GREY, fontSize: 11.5, fontFamily: 'Liberation Sans', dy: 9 }}
          height={68}
          allowDataOverflow
          label={{ value: 'Pathway Impact', position: 'insideTop', offset: 43, dx: 0, fill: AXIS_GREY, fontSize: 11, fontFamily: 'Liberation Sans' }}
        />
        <YAxis
          type="number"
          dataKey="y"
          domain={[-2.94, 71.62]}
          ticks={logpTicks}
          axisLine={false}
          tickSize={8}
          tickLine={{ stroke: AXIS_GREY, strokeWidth: 1.2 }}
          tick={{ fill: AXIS_GREY, fontSize: 11.5, fontFamily: 'Liberation Sans', angle: -90, textAnchor: 'middle', dx: -7 }}
          width={50}
          label={{ value: '-log10(p)', angle: -90, position: 'insideLeft', dx: 3, dy: 16, fill: AXIS_GREY, fontSize: 11, fontFamily: 'Liberation Sans' }}
        />
        <ReferenceLine ifOverflow="visible" stroke={AXIS_GREY} strokeWidth={1.3} segment={[{ x: 0, y: -2.94 }, { x: 8, y: -2.94 }]} />
        <ReferenceLine ifOverflow="visible" stroke={AXIS_GREY} strokeWidth={1.3} segment={[{ x: -0.377, y: 0 }, { x: -0.377, y: 70 }]} />
        <Scatter data={data} isAnimationActive={false} shape={PathwayDot} />
        {callouts.map((c) => (
          <ReferenceLine
            key={c.text + 'a'}
            ifOverflow="visible"
            stroke="#111"
            strokeWidth={1.4}
            markerEnd="url(#calloutHead)"
            segment={[{ x: c.from[0], y: c.from[1] }, { x: c.to[0], y: c.to[1] }]}
          />
        ))}
        {callouts.map((c) => (
          <ReferenceDot
            key={c.text}
            x={c.x}
            y={c.y}
            ifOverflow="visible"
            shape={({ cx, cy }: any) => (
              <text x={cx} y={cy} fontSize={19.2} fontFamily="Liberation Sans" fill="#1c1c1c">{c.text}</text>
            )}
          />
        ))}
      </ScatterChart>
    </div>
  );
}

function GeneNode({ cx, cy, payload }: any) {
  const name = payload.label.split('#')[0];
  const kind = payload.kind;
  const labelProps = { textAnchor: 'middle', fontSize: 6.3, fontFamily: 'Liberation Sans', fill: '#2e1616' } as any;
  if (kind === 'c' || kind === 'r') {
    return (
      <g>
        <circle cx={cx} cy={cy} r={7} fill={kind === 'c' ? '#e2e4f8' : '#fa5050'} stroke={kind === 'c' ? '#9a9ab0' : '#ff8a8a'} strokeWidth={0.8} />
        <text x={cx} y={cy + 2} {...labelProps}>{name}</text>
      </g>
    );
  }
  if (kind === 'm') {
    // complexes are several members stacked on top of each other
    return (
      <g>
        <rect x={cx - 7} y={cy - 8} width={14} height={16} fill="#fa5050" stroke="#ff8a8a" strokeWidth={0.8} />
        <rect x={cx - 7} y={cy - 6} width={14} height={12} fill="#9095b2" stroke="#a0a0b4" strokeWidth={0.6} />
        <text x={cx} y={cy - 1.5} {...labelProps}>{name}</text>
        <text x={cx} y={cy + 3.5} {...labelProps}>{name}</text>
      </g>
    );
  }
  const fill = kind === 'l' ? '#e4e6fa' : '#fa5050';
  const edge = kind === 'l' ? '#a0a0b4' : '#ff8a8a';
  return (
    <g>
      <rect x={cx - 7} y={cy - 5} width={14} height={10} fill={fill} stroke={edge} strokeWidth={0.9} />
      <text x={cx} y={cy + 2} {...labelProps}>{name}</text>
    </g>
  );
}

// stop a link at the border of its target so the arrow head stays visible
function trimToBox(a: any, b: any) {
  const dx = a.x - b.x;
  const dy = a.y - b.y;
  const hw = b.kind === 'c' || b.kind === 'r' ? 21 : 23;
  const hh = b.kind === 'c' || b.kind === 'r' ? 21 : 17;
  const t = Math.min(dx === 0 ? 1 : hw / Math.abs(dx), dy === 0 ? 1 : hh / Math.abs(dy), 1);
  return { x: b.x + dx * t, y: b.y + dy * t };
}

function NetworkPanel({ left, top, width, height, rows, links, idx }: any) {
  const nodes = rows.map(([label, x, y, kind]: any) => ({ label, x, y, kind }));
  const byName = new Map(nodes.map((n: any) => [n.label, n]));
  const segments = links
    .map((l: string) => l.split('>'))
    .filter(([a, b]: string[]) => byName.has(a) && byName.has(b))
    .map(([a, b]: string[]) => {
      const from: any = byName.get(a);
      const to: any = byName.get(b);
      return [{ x: from.x, y: from.y }, trimToBox(from, to)];
    });
  const head = `linkHead${idx}`;
  return (
    <div style={{ position: 'absolute', left, top, filter: 'blur(0.45px)' }}>
      <ScatterChart width={width} height={height} margin={{ top: 0, right: 0, bottom: 0, left: 0 }}>
        <defs>
          <marker id={head} markerWidth="6" markerHeight="6" refX="5" refY="2.5" orient="auto" markerUnits="userSpaceOnUse">
            <path d="M0,0 L5,2.5 L0,5 Z" fill="#6e6e6e" />
          </marker>
        </defs>
        <XAxis type="number" dataKey="x" domain={[0, width * 3]} hide allowDataOverflow />
        <YAxis type="number" dataKey="y" domain={[0, height * 3]} reversed hide allowDataOverflow />
        {segments.map((s: any, i: number) => (
          <ReferenceLine key={i} ifOverflow="visible" stroke="#787878" strokeWidth={1} markerEnd={`url(#${head})`} segment={s} />
        ))}
        <Scatter data={nodes} isAnimationActive={false} shape={GeneNode} />
      </ScatterChart>
    </div>
  );
}

export default function App() {
  return (
    <div style={{ position: 'absolute', left: 0, top: 0, width: 781, height: 786, background: '#fff', overflow: 'hidden', fontFamily: 'Liberation Sans' }}>
      <ImpactChart />
      {panels.map((p, i) => (
        <NetworkPanel key={i} idx={i} {...p} />
      ))}
      {panelTags.map((t) => (
        <div key={t.tag} style={{ position: 'absolute', left: t.left, top: t.top, fontSize: 14, color: '#222' }}>{t.tag}</div>
      ))}
    </div>
  );
}
